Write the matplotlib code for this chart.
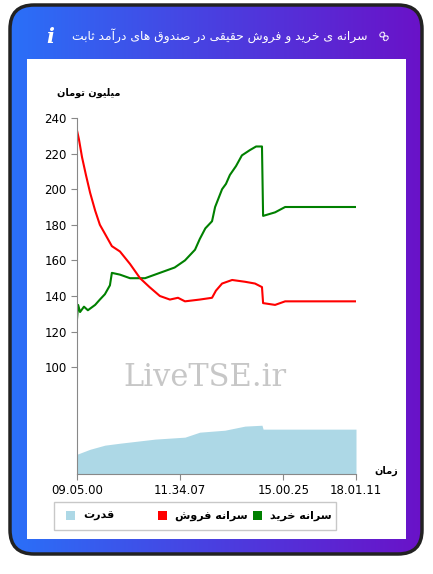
import numpy as np
import matplotlib.pyplot as plt
from matplotlib.patches import FancyBboxPatch, Rectangle
from matplotlib.colors import LinearSegmentedColormap

# time position (0..100 of session) and values
buy_t = [0, 0.4, 1.1, 2.5, 3.9, 6.5, 8.2, 10, 11.8, 12.5, 15.4, 19, 24.4, 29.7, 35, 38.7, 42.3,
         44, 46, 48.4, 49.5, 52, 53.4, 54.8, 57, 59.1, 62, 64.2, 66.3, 66.7, 71, 74.6, 100]
buy = [127, 135, 131, 134, 132, 135, 138, 141, 146, 153, 152, 150, 150, 153, 156, 160, 166,
       172, 178, 182, 190, 200, 203, 208, 213, 219, 222, 224, 224, 185, 187, 190, 190]
sell_t = [0, 0.7, 1.8, 3.2, 4.7, 6.5, 8.2, 10, 12.5, 15.4, 19, 22.6, 26, 29.7, 33.3, 36.2, 38.7,
          44, 48.4, 49.8, 52, 55.6, 60.2, 63.8, 66.3, 66.7, 71, 74.6, 100]
sell = [233, 228, 218, 208, 198, 188, 180, 175, 168, 165, 158, 150, 145, 140, 138, 139, 137,
        138, 139, 143, 147, 149, 148, 147, 145, 136, 135, 137, 137]
power_t = [0, 4.7, 10, 15.4, 28, 38.7, 44, 53, 60.2, 66.3, 66.7, 100]
power = [51.1, 53.9, 56.2, 57.3, 59.6, 60.7, 63.5, 64.6, 66.9, 67.4, 65.2, 65.2]
tick_pos = [0, 37, 74, 100]
tick_labels = ['09.05.00', '11.34.07', '15.00.25', '18.01.11']

# minimal Persian shaping (matplotlib has no shaping / bidi)
FORMS = {
    'ا': ('\uFE8D', '\uFE8E', None, None), 'آ': ('\uFE81', '\uFE82', None, None),
    'ب': ('\uFE8F', '\uFE90', '\uFE91', '\uFE92'), 'ت': ('\uFE95', '\uFE96', '\uFE97', '\uFE98'),
    'ث': ('\uFE99', '\uFE9A', '\uFE9B', '\uFE9C'), 'ح': ('\uFEA1', '\uFEA2', '\uFEA3', '\uFEA4'),
    'خ': ('\uFEA5', '\uFEA6', '\uFEA7', '\uFEA8'), 'د': ('\uFEA9', '\uFEAA', None, None),
    'ر': ('\uFEAD', '\uFEAE', None, None), 'ز': ('\uFEAF', '\uFEB0', None, None),
    'س': ('\uFEB1', '\uFEB2', '\uFEB3', '\uFEB4'), 'ش': ('\uFEB5', '\uFEB6', '\uFEB7', '\uFEB8'),
    'ص': ('\uFEB9', '\uFEBA', '\uFEBB', '\uFEBC'), 'ف': ('\uFED1', '\uFED2', '\uFED3', '\uFED4'),
    'ق': ('\uFED5', '\uFED6', '\uFED7', '\uFED8'), 'ل': ('\uFEDD', '\uFEDE', '\uFEDF', '\uFEE0'),
    'م': ('\uFEE1', '\uFEE2', '\uFEE3', '\uFEE4'), 'ن': ('\uFEE5', '\uFEE6', '\uFEE7', '\uFEE8'),
    'ه': ('\uFEE9', '\uFEEA', '\uFEEB', '\uFEEC'), 'و': ('\uFEED', '\uFEEE', None, None),
    'ی': ('\uFEEF', '\uFEF0', '\uFEF3', '\uFEF4'),
}


def fa(s):
    out = []
    for i, c in enumerate(s):
        if c not in FORMS:
            out.append(c)
            continue
        prev = s[i - 1] if i > 0 else ''
        nxt = s[i + 1] if i + 1 < len(s) else ''
        jp = prev in FORMS and FORMS[prev][2] is not None
        jn = FORMS[c][2] is not None and nxt in FORMS
        iso, fin, ini, med = FORMS[c]
        if jp and jn:
            out.append(med)
        elif jp:
            out.append(fin)
        elif jn:
            out.append(ini)
        else:
            out.append(iso)
    return ''.join(out[::-1])


W, H = 433, 574
fig = plt.figure(figsize=(W / 100, H / 100), dpi=100)

bg = fig.add_axes([0, 0, 1, 1])
bg.set_xlim(0, W)
bg.set_ylim(H, 0)
bg.axis('off')
grad = np.linspace(0, 1, 256)[None, :]
cm = LinearSegmentedColormap.from_list('g', ['#2a70f8', '#4a3fe0', '#6a12c8'])
card = FancyBboxPatch((10, 5), 412, 549, boxstyle='round,pad=0,rounding_size=24',
                      fc='none', ec='#222222', lw=2.5, zorder=3)
bg.add_patch(card)
im = bg.imshow(grad, cmap=cm, extent=[10, 422, 554, 5], aspect='auto', zorder=1)
im.set_clip_path(card)
bg.add_patch(Rectangle((27, 59), 379, 480, fc='white', ec='none', zorder=2))
bg.text(367, 36, fa('سرانه ی خرید و فروش حقیقی در صندوق های درآمد ثابت'), color='white',
        fontsize=8.9, ha='right', va='center', zorder=4)
bg.text(50, 37, 'i', color='white', fontsize=15, fontweight='bold', style='italic',
        family='DejaVu Serif', ha='center', va='center', zorder=4)
bg.text(382, 37, '∞', color='white', fontsize=12, rotation=-45, ha='center', va='center', zorder=4)

# legend
bg.add_patch(Rectangle((54, 502), 282, 28, fc='white', ec='#c8c8c8', lw=1, zorder=4))
for x, col, lab in [(253, 'green', 'سرانه خرید'), (158, 'red', 'سرانه فروش'), (66, '#add8e6', 'قدرت')]:
    bg.add_patch(Rectangle((x, 511), 9, 9, fc=col, ec='none', zorder=5))
    bg.text(x + 17, 516, fa(lab), fontsize=8, fontweight='bold', ha='left', va='center', zorder=5)

ax = fig.add_axes([77 / W, 1 - 474 / H, 279 / W, 356 / H])
ax.set_facecolor('none')
ax.fill_between(power_t, 40, power, color='#add8e6', lw=0)
ax.plot(buy_t, buy, color='green', lw=1.5)
ax.plot(sell_t, sell, color='red', lw=1.5)
ax.set_xlim(0, 100)
ax.set_ylim(40, 240)
ax.set_yticks(range(100, 241, 20))
ax.set_xticks(tick_pos)
ax.set_xticklabels(tick_labels)
for s in ['top', 'right']:
    ax.spines[s].set_visible(False)
for s in ['left', 'bottom']:
    ax.spines[s].set_color('#888888')
ax.tick_params(colors='#888888', labelcolor='black', labelsize=8.5, length=4)
ax.text(46, 94, 'LiveTSE.ir', fontsize=22, family='DejaVu Serif', color='#b0b0b0', alpha=0.7,
        ha='center', va='center')
bg.text(120, 93, fa('میلیون تومان'), fontsize=7, fontweight='bold', ha='right', va='center', zorder=5)
bg.text(398, 471, fa('زمان'), fontsize=7, fontweight='bold', ha='right', va='center', zorder=5)

fig.savefig('out.png', dpi=100)
